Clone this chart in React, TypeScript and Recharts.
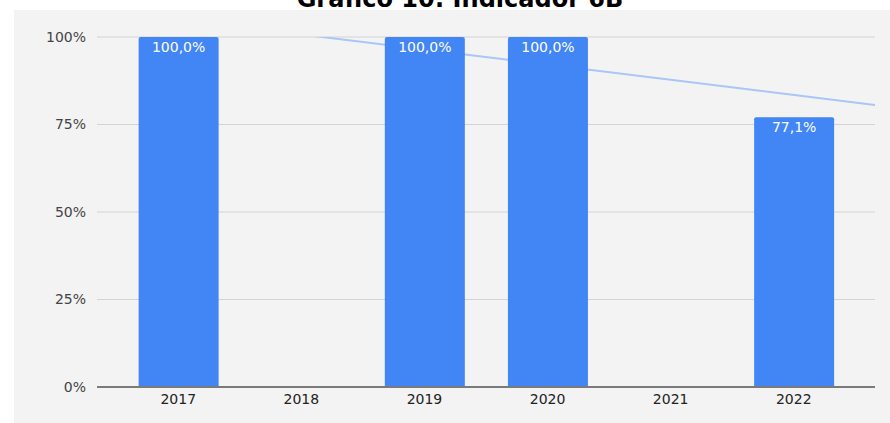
import {
  ComposedChart,
  Bar,
  Line,
  XAxis,
  YAxis,
  CartesianGrid,
  LabelList,
} from 'recharts';

const years = ['2017', '2018', '2019', '2020', '2021', '2022'];
const values: (number | null)[] = [100, null, 100, 100, null, 77.1];
const yTicks = [0, 25, 50, 75, 100];

// tendência (extremos da área do gráfico)
const trendX = [-0.66, 5.66];
const trendY = [107.9, 80.6];

const data = years.map((year, i) => ({ x: i, year, value: values[i] }));
const trendData = trendX.map((x, i) => ({ x, trend: trendY[i] }));

const fontFamily = '"DejaVu Sans", Verdana, sans-serif';

const fmtLabel = (v: any) =>
  v == null ? '' : `${Number(v).toFixed(1).replace('.', ',')}%`;

export default function App() {
  return (
    <div
      style={{
        position: 'fixed',
        left: 0,
        top: 0,
        width: 890,
        height: 423,
        background: '#fff',
        overflow: 'hidden',
        fontFamily,
      }}
    >
      <div
        style={{
          position: 'absolute',
          left: 0,
          width: 920,
          top: -15,
          textAlign: 'center',
          fontFamily,
          fontWeight: 'bold',
          fontSize: 24,
          lineHeight: '28px',
          color: '#000',
        }}
      >
        Gráfico 10: Indicador 6B
      </div>
      <div
        style={{
          position: 'absolute',
          left: 14,
          top: 10,
          width: 876,
          height: 413,
          background: '#f3f3f3',
        }}
      >
        <ComposedChart
          width={876}
          height={413}
          data={data}
          margin={{ top: 27, right: 15, bottom: 0, left: 0 }}
        >
          <CartesianGrid vertical={false} stroke="#d3d3d3" strokeWidth={1} />
          <XAxis
            dataKey="x"
            type="number"
            domain={[-0.66, 5.66]}
            ticks={[0, 1, 2, 3, 4, 5]}
            tickFormatter={(i: number) => years[i] ?? ''}
            allowDataOverflow
            height={36}
            tickLine={false}
            tickSize={0}
            tickMargin={7}
            axisLine={{ stroke: '#7a7a7a', strokeWidth: 2 }}
            tick={{ fontSize: 14, fill: '#222', fontFamily }}
          />
          <YAxis
            domain={[0, 100]}
            ticks={yTicks}
            allowDataOverflow
            tickFormatter={(v: number) => `${v}%`}
            width={83}
            axisLine={false}
            tickLine={false}
            tickSize={0}
            tickMargin={11}
            tick={{ fontSize: 14, fill: '#444', fontFamily }}
          />
          <Line
            data={trendData}
            dataKey="trend"
            type="linear"
            stroke="#a9c6f9"
            strokeWidth={2}
            dot={false}
            activeDot={false}
            zIndex={250}
            isAnimationActive={false}
          />
          <Bar
            dataKey="value"
            fill="#4285f4"
            barSize={80}
            radius={[2, 2, 0, 0]}
            zIndex={350}
            isAnimationActive={false}
          >
            <LabelList
              dataKey="value"
              position="insideTop"
              offset={5}
              formatter={fmtLabel}
              style={{ fill: '#fff', fontSize: 14, fontFamily }}
            />
          </Bar>
        </ComposedChart>
      </div>
    </div>
  );
}
